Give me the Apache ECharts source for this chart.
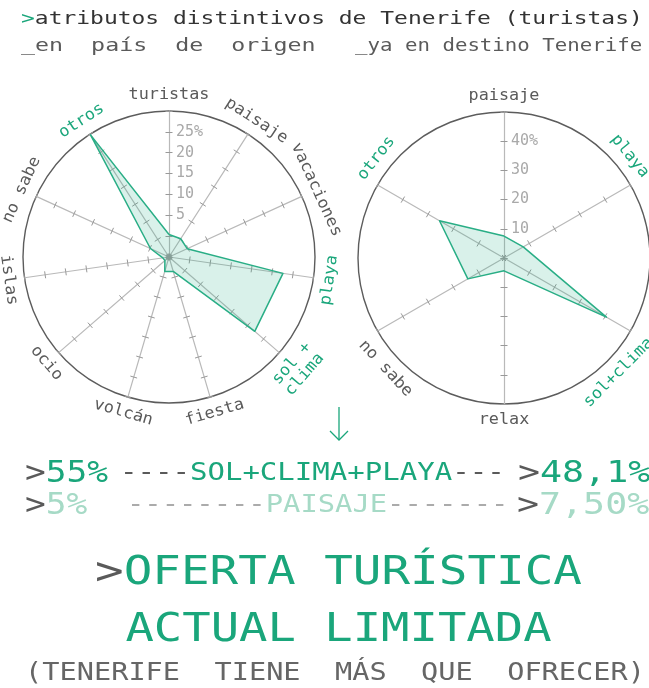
<!DOCTYPE html>
<html>
<head>
<meta charset="utf-8">
<script src="https://cdn.jsdelivr.net/npm/echarts@6/dist/echarts.min.js"></script>
<style>
  html, body { margin: 0; padding: 0; background: #fff; }
  #main { width: 649px; height: 688px; }
</style>
</head>
<body>
<div id="main"></div>
<script>
// atributos en país de origen (en sentido horario desde arriba)
var origenNames = ['turistas', 'paisaje', 'vacaciones', 'playa', 'sol +\nclima', 'fiesta', 'volcán', 'ocio', 'islas', 'no sabe', 'otros'];
var origenValues = [5.4, 5.2, 4.8, 27.6, 27.2, 3.6, 3.6, 1.3, 1.5, 4.9, 34.8];
// etiquetas del eje vertical, una por marca (0, 5, 10 ... 35)
var origenTicks = ['', '', '5', '10', '15', '20', '25%', ''];

// atributos ya en destino
var destinoNames = ['paisaje', 'playa', 'sol+clima', 'relax', 'no sabe', 'otros'];
var destinoValues = [7.5, 7.6, 40.5, 4.4, 14.3, 25.5];
var destinoTicks = ['', '10', '20', '30', '40%', ''];

var destacados = ['otros', 'playa', 'sol +\nclima', 'sol+clima'];

var VERDE = '#1aa67b';
var VERDE_CLARO = '#a6dac6';
var GRIS = '#5a5a5a';
var MONO = 'DejaVu Sans Mono';

var chart = echarts.init(document.getElementById('main'));

// echarts pone los ejes en sentido antihorario: reordenamos
function sentidoEcharts(arr) {
  var out = [arr[0]];
  for (var i = arr.length - 1; i > 0; i--) out.push(arr[i]);
  return out;
}

function ringColors(split) {
  var c = [];
  for (var i = 0; i < split; i++) c.push('rgba(0,0,0,0)');
  c.push('#5c5c5c');
  return c;
}

function indicadores(names, max, ticks, step, conEtiquetas) {
  return sentidoEcharts(names).map(function (n, i) {
    var ind = { name: n, max: max, min: 0 };
    if (conEtiquetas && i === 0) {
      // etiquetas a la derecha del eje vertical
      ind.axisLabel = {
        show: true,
        color: '#a9a9a9',
        fontFamily: MONO,
        fontSize: 15,
        margin: -7,
        align: 'left',
        formatter: function (v) { return ticks[Math.round(v / step)] || ''; }
      };
    }
    return ind;
  });
}

function radarPrincipal(center, names, max, split, ticks) {
  return {
    shape: 'circle',
    center: center,
    radius: 146,
    startAngle: 90,
    splitNumber: split,
    indicator: indicadores(names, max, ticks, max / split, true),
    axisName: { show: false },
    axisLine: { lineStyle: { color: '#b9b9b9', width: 1.2 } },
    axisTick: { show: true, length: 3.5, lineStyle: { color: '#999', width: 1 } },
    axisLabel: { show: false },
    splitLine: { lineStyle: { color: ringColors(split), width: 1.4 } },
    splitArea: { show: false }
  };
}

// segundo radar girado 180º con radio negativo: mismos ejes,
// pero las marcas caen al otro lado y cruzan la línea
function radarMarcas(center, names, max, split) {
  return {
    shape: 'circle',
    center: center,
    radius: -146,
    startAngle: 270,
    splitNumber: split,
    indicator: indicadores(names, max, null, max / split, false),
    axisName: { show: false },
    axisLine: { show: false },
    axisTick: { show: true, length: 3.5, lineStyle: { color: '#999', width: 1 } },
    axisLabel: { show: false },
    splitLine: { show: false },
    splitArea: { show: false }
  };
}

// nombres de los ejes, girados siguiendo el círculo
function nombres(names, cx, cy, r, giro) {
  var n = names.length;
  return names.map(function (name, i) {
    var th = i * 360 / n + (giro ? giro[i] : 0);
    var multi = name.indexOf('\n') >= 0;
    var rr = multi ? r + 9 : r;
    var rad = th * Math.PI / 180;
    var cw = (th > 90 && th < 270) ? th - 180 : (th >= 270 ? th - 360 : th);
    return {
      type: 'text',
      x: cx + rr * Math.sin(rad),
      y: cy - rr * Math.cos(rad),
      rotation: -cw * Math.PI / 180,
      scaleX: 1.05,
      style: {
        text: name,
        fill: destacados.indexOf(name) >= 0 ? VERDE : GRIS,
        font: '16px "' + MONO + '"',
        lineHeight: 17,
        textAlign: 'center',
        textVerticalAlign: 'middle'
      }
    };
  });
}

function linea(x, y, text, size, sx, align, rich, fill) {
  return {
    type: 'text', x: x, y: y, scaleX: sx,
    style: {
      text: text,
      fill: fill || GRIS,
      font: size + 'px "' + MONO + '"',
      textAlign: align,
      textVerticalAlign: 'middle',
      rich: rich || {}
    }
  };
}

var richFila1 = {
  d: { fill: GRIS, fontSize: 30, fontFamily: MONO },
  v: { fill: VERDE, fontSize: 30, fontFamily: MONO }
};
var richFila1b = {
  d: { fill: GRIS, fontSize: 24, fontFamily: MONO },
  v: { fill: VERDE, fontSize: 24, fontFamily: MONO }
};
var richFila2 = {
  d: { fill: GRIS, fontSize: 30, fontFamily: MONO },
  v: { fill: VERDE_CLARO, fontSize: 30, fontFamily: MONO }
};
var richFila2b = {
  d: { fill: '#ababab', fontSize: 24, fontFamily: MONO },
  v: { fill: VERDE_CLARO, fontSize: 24, fontFamily: MONO }
};

var textos = [
  linea(21, 20, '{v|>}atributos distintivos de Tenerife (turistas)', 17, 1.35, 'left',
    { v: { fill: VERDE, fontSize: 17, fontFamily: MONO } }, '#333'),
  linea(21, 47, '_en  país  de  origen', 17, 1.37, 'left', null, GRIS),
  linea(355, 47, '_ya en destino Tenerife', 17, 1.22, 'left', null, GRIS),
  linea(25, 474, '{d|>}{v|55%}', 30, 1.15, 'left', richFila1),
  linea(120, 474, '{d|----}{v|SOL+CLIMA+PLAYA}{d|---}', 24, 1.21, 'left', richFila1b),
  linea(518, 474, '{d|>}{v|48,1%}', 30, 1.22, 'left', richFila1),
  linea(25, 506, '{d|>}{v|5%}', 30, 1.15, 'left', richFila2),
  linea(127, 506, '{d|--------}{v|PAISAJE}{d|-------}', 24, 1.2, 'left', richFila2b),
  linea(517, 506, '{d|>}{v|7,50%}', 30, 1.22, 'left', richFila2),
  linea(338.5, 574, '{d|>}OFERTA TURÍSTICA', 39, 1.22, 'center',
    { d: { fill: GRIS, fontSize: 39, fontFamily: MONO } }, VERDE),
  linea(338.5, 631, 'ACTUAL LIMITADA', 39, 1.21, 'center', null, VERDE),
  linea(335, 673, '(TENERIFE  TIENE  MÁS  QUE  OFRECER)', 25, 1.144, 'center', null, '#666')
];

// flecha hacia abajo entre los dos gráficos
var flecha = [
  { type: 'line', shape: { x1: 339, y1: 407, x2: 339, y2: 440 }, style: { stroke: VERDE, lineWidth: 1.3 } },
  { type: 'polyline', shape: { points: [[330, 431], [339, 440], [348, 431]] }, style: { stroke: VERDE, lineWidth: 1.3, fill: null } }
];

var option = {
  backgroundColor: '#fff',
  animation: false,
  radar: [
    radarPrincipal([169, 257], origenNames, 35, 7, origenTicks),
    radarMarcas([169, 257], origenNames, 35, 7),
    radarPrincipal([504, 258], destinoNames, 50, 5, destinoTicks),
    radarMarcas([504, 258], destinoNames, 50, 5)
  ],
  graphic: nombres(origenNames, 169, 257, 162, null)
    .concat(nombres(destinoNames, 504, 258, 162, [0, -9, 15, 0, -13, 8]))
    .concat(textos)
    .concat(flecha),
  series: [
    {
      name: 'en país de origen',
      type: 'radar',
      radarIndex: 0,
      symbol: 'none',
      lineStyle: { color: '#2aae86', width: 1.5 },
      areaStyle: { color: 'rgba(42,174,134,0.25)' },
      data: [{ value: sentidoEcharts(origenValues) }]
    },
    {
      name: 'ya en destino',
      type: 'radar',
      radarIndex: 2,
      symbol: 'none',
      lineStyle: { color: '#2aae86', width: 1.5 },
      areaStyle: { color: 'rgba(42,174,134,0.25)' },
      data: [{ value: sentidoEcharts(destinoValues) }]
    }
  ]
};

chart.setOption(option);
</script>
</body>
</html>
